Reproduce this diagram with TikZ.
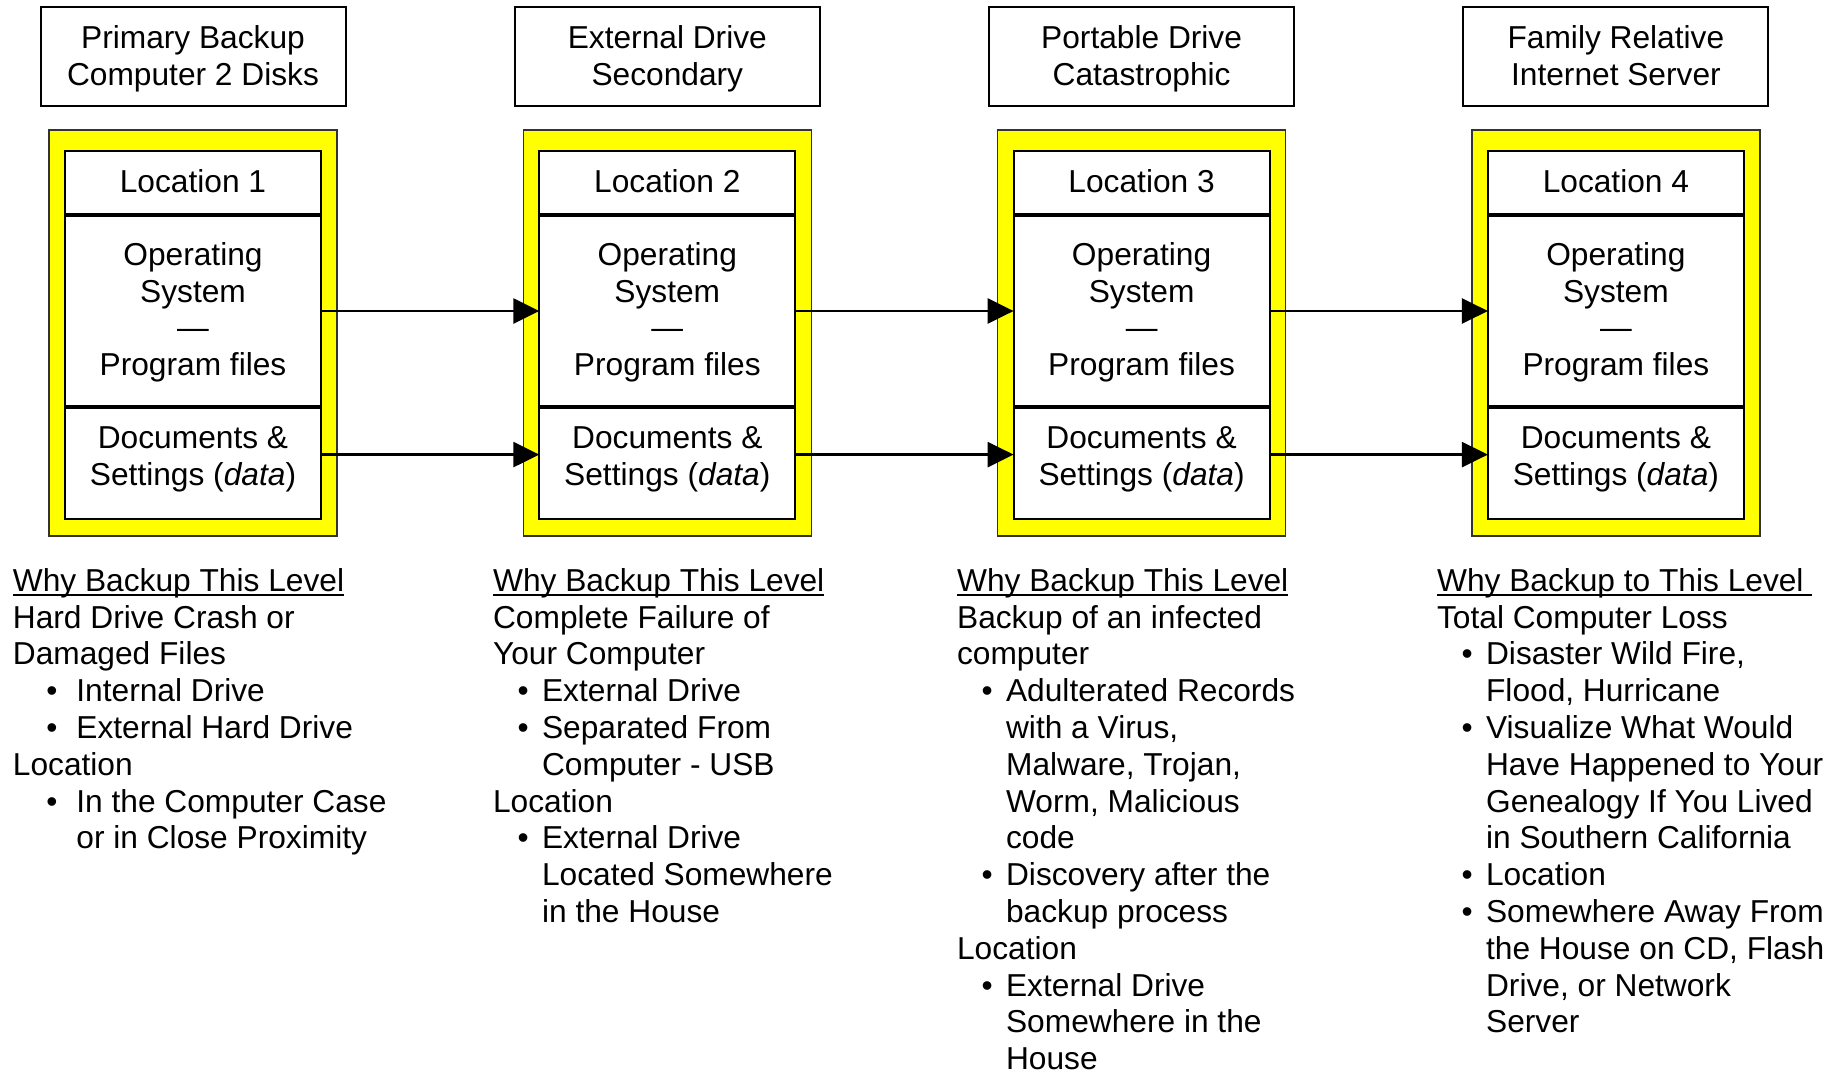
\documentclass[tikz,border=0pt]{standalone}
\usepackage{fontspec}
\setmainfont{Liberation Sans}
\usetikzlibrary{arrows.meta}
\definecolor{hiyel}{HTML}{FFFF00}
\newsavebox\ulbox
\newcommand\ulx[1]{\sbox\ulbox{#1}\rlap{\rule[-2.25pt]{\wd\ulbox}{1pt}}\usebox\ulbox}
\newcommand\bA{\makebox[31.75pt][l]{\hspace{16.75pt}\textbullet}}
\newcommand\cA{\hspace*{31.75pt}}
\newcommand\bB{\makebox[24.5pt][l]{\hspace{12.25pt}\textbullet}}
\newcommand\cB{\hspace*{24.5pt}}
\begin{document}
\begin{tikzpicture}[x=0.5pt,y=-0.5pt,
  font=\fontsize{15.85pt}{18.4pt}\selectfont,
  topbox/.style={draw,line width=1pt,minimum width=152.5pt,minimum height=49.5pt,align=center,inner sep=0pt,outer sep=0pt},
  yelbox/.style={draw=black!80,line width=0.6pt,fill=hiyel,minimum width=144pt,minimum height=203pt,inner sep=0pt,outer sep=0pt},
  sect/.style={draw,line width=1pt,fill=white,minimum width=128pt,inner sep=0pt,outer sep=0pt},
  lbl/.style={align=center,inner sep=0pt},
  body/.style={align=left,anchor=north west,inner sep=0pt},
  flow/.style={line width=1.3pt,-{Triangle[length=13pt,width=12.5pt]}}]

\path[use as bounding box] (0,0) rectangle (1844,1071);

\foreach \i/\ta/\tb in {1/Primary Backup/Computer 2 Disks,2/External Drive/Secondary,3/Portable Drive/Catastrophic,4/Family Relative/Internet Server}{
  \pgfmathsetmacro\cx{193+(\i-1)*474.3}
  \node[topbox] (top\i) at (\cx,56.5) {};
  \node[lbl] (topl\i) at (\cx,59.5) {\strut\ta\\\strut\tb};
  \node[yelbox] (yel\i) at (\cx,333) {};
  \node[sect,minimum height=32pt] (loc\i) at (\cx,183) {};
  \node[sect,minimum height=96pt] (os\i) at (\cx,311) {};
  \node[sect,minimum height=55.8pt] (doc\i) at (\cx,462.8) {};
  \draw[line width=2pt] (loc\i.south west) -- (loc\i.south east);
  \draw[line width=2pt] (os\i.south west) -- (os\i.south east);
  \node[lbl] (locl\i) at (\cx,181) {Location \i};
  \node[lbl] (osl\i) at (\cx,312.2) {Operating\\System\\—\\Program files};
  \node[lbl] (docl\i) at (\cx,459.5) {Documents \&\\Settings (\textit{data})};
}

\foreach \i [evaluate=\i as \j using int(\i+1)] in {1,2,3}{
  \draw[flow] (os\i.east) -- (os\j.west);
  \draw[flow] ([yshift=4.1pt]doc\i.east) -- ([yshift=4.1pt]doc\j.west);
}

\node[body] (why1) at (12.5,565.2) {\strut\ulx{Why Backup This Level}\\
Hard Drive Crash or\\
Damaged Files\\
\bA Internal Drive\\
\bA External Hard Drive\\
Location\\
\bA In the Computer Case\\
\cA or in Close Proximity};

\node[body] (why2) at (492.7,565.2) {\strut\ulx{Why Backup This Level}\\
Complete Failure of\\
Your Computer\\
\bB External Drive\\
\bB Separated From\\
\cB Computer - USB\\
Location\\
\bB External Drive\\
\cB Located Somewhere\\
\cB in the House};

\node[body] (why3) at (956.7,565.2) {\strut\ulx{Why Backup This Level}\\
Backup of an infected\\
computer\\
\bB Adulterated Records\\
\cB with a Virus,\\
\cB Malware, Trojan,\\
\cB Worm, Malicious\\
\cB code\\
\bB Discovery after the\\
\cB backup process\\
Location\\
\bB External Drive\\
\cB Somewhere in the\\
\cB House};

\node[body] (why4) at (1436.7,565.2) {\strut\ulx{Why Backup to This Level\ }\\
Total Computer Loss\\
\bB Disaster Wild Fire,\\
\cB Flood, Hurricane\\
\bB Visualize What Would\\
\cB Have Happened to Your\\
\cB Genealogy If You Lived\\
\cB in Southern California\\
\bB Location\\
\bB Somewhere Away From\\
\cB the House on CD, Flash\\
\cB Drive, or Network\\
\cB Server};
\end{tikzpicture}
\end{document}
